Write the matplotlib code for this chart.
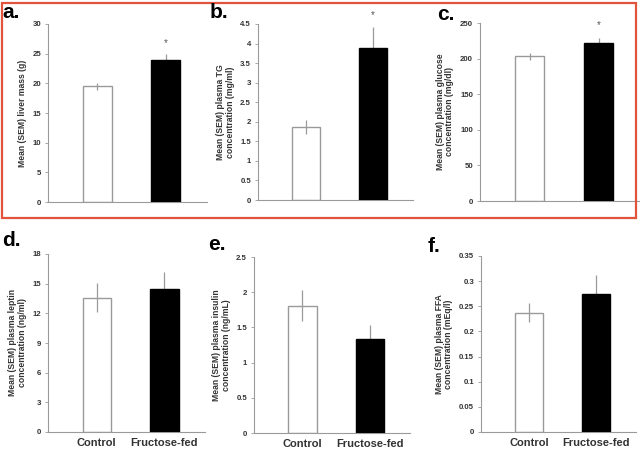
"""
Fructose-fed vs Control: 6-panel bar chart (liver mass, TG, glucose, leptin, insulin, FFA)
"""
import matplotlib
matplotlib.use('Agg')
import matplotlib.pyplot as plt
from matplotlib.patches import Rectangle

plt.rcParams['font.family'] = ['Liberation Sans', 'DejaVu Sans']

# データ
GROUPS = ['Control', 'Fructose-fed']
PANEL_LETTERS = ['a.', 'b.', 'c.', 'd.', 'e.', 'f.']
YLABELS = [
    'Mean (SEM) liver mass (g)',
    'Mean (SEM) plasma TG\nconcentration (mg/ml)',
    'Mean (SEM) plasma glucose\nconcentration (mg/dl)',
    'Mean (SEM) plasma leptin\nconcentration (ng/ml)',
    'Mean (SEM) plasma insulin\nconcentration (ng/mL)',
    'Mean (SEM) plasma FFA\nconcentration (mEq/l)',
]
liver_mass = [19.5, 24.0]
liver_mass_sem = [0.6, 0.9]
tg = [1.87, 3.88]
tg_sem = [0.18, 0.55]
glucose = [203, 222]
glucose_sem = [5, 7]
leptin = [13.6, 14.5]
leptin_sem = [1.5, 1.7]
insulin = [1.81, 1.33]
insulin_sem = [0.22, 0.21]
ffa = [0.237, 0.275]
ffa_sem = [0.019, 0.037]
MEANS = [liver_mass, tg, glucose, leptin, insulin, ffa]
SEMS = [liver_mass_sem, tg_sem, glucose_sem, leptin_sem, insulin_sem, ffa_sem]
YMAX = [30, 4.5, 250, 18, 2.5, 0.35]
YSTEP = [5, 0.5, 50, 3, 0.5, 0.05]
# 有意差マーカー(*)の高さ（上段のみ）
STAR_Y = [26.8, 4.73, 247, None, None, None]

# レイアウト（ピクセル: left, top, right, bottom）
W, H = 640, 453
AX_BOX = [
    (48, 24, 207, 202),
    (258, 24, 413, 200),
    (480, 23, 640, 201),
    (48, 254, 205, 432),
    (254, 257, 410, 433),
    (481, 256, 636, 432),
]
LETTER_POS = [(2, 18), (210, 18), (437, 20), (2, 246), (208, 250), (428, 252)]
EDGE = '#9a9a9a'
TEXT = '#333333'


def fmt_tick(v: float) -> str:
    s = f'{v:.2f}'.rstrip('0').rstrip('.')
    return s


fig = plt.figure(figsize=(W / 100, H / 100), dpi=100)

for i in range(6):
    l, t, r, b = AX_BOX[i]
    ax = fig.add_axes([l / W, 1 - b / H, (r - l) / W, (b - t) / H])
    x = [1, 2]
    m = MEANS[i]
    s = SEMS[i]
    ax.bar(x[0], m[0], width=0.42, color='white', edgecolor=EDGE,
           linewidth=1.0, zorder=1)
    ax.errorbar(x, m, yerr=s, fmt='none', ecolor=EDGE, elinewidth=0.9,
                capsize=0, zorder=2)
    ax.bar(x[1], m[1], width=0.42, color='black', edgecolor='black',
           linewidth=1.0, zorder=3)
    if STAR_Y[i] is not None:
        ax.text(x[1], STAR_Y[i], '*', ha='center', va='center',
                fontsize=7, color='#555555', clip_on=False)

    ax.set_xlim(0.28, 2.6)
    ax.set_ylim(0, YMAX[i])
    n = int(round(YMAX[i] / YSTEP[i]))
    ticks = [YSTEP[i] * k for k in range(n + 1)]
    ax.set_yticks(ticks)
    ax.set_yticklabels([fmt_tick(v) for v in ticks], fontsize=5.6,
                       fontweight='bold', color=TEXT)
    ax.tick_params(axis='y', length=2, width=0.6, color=EDGE, pad=3)
    if i >= 3:
        ax.set_xticks(x)
        ax.set_xticklabels(GROUPS, fontsize=8, fontweight='bold',
                           color=TEXT)
        ax.tick_params(axis='x', length=0, pad=4)
    else:
        ax.set_xticks([])
    for side in ('top', 'right'):
        ax.spines[side].set_visible(False)
    for side in ('left', 'bottom'):
        ax.spines[side].set_color(EDGE)
        ax.spines[side].set_linewidth(0.8)
    ax.set_ylabel(YLABELS[i], fontsize=6.2, fontweight='bold', color=TEXT,
                  labelpad=4, linespacing=1.1)

    lx, ly = LETTER_POS[i]
    fig.text(lx / W, 1 - ly / H, PANEL_LETTERS[i], fontsize=15,
             fontweight='bold', color='black', ha='left', va='baseline')

# 上段を囲む赤枠
fig.patches.append(Rectangle((2 / W, 1 - 218 / H), 634 / W, 215 / H,
                             transform=fig.transFigure, fill=False,
                             edgecolor='#e2533b', linewidth=1.6))

fig.savefig('out.png', dpi=100)
plt.close(fig)
